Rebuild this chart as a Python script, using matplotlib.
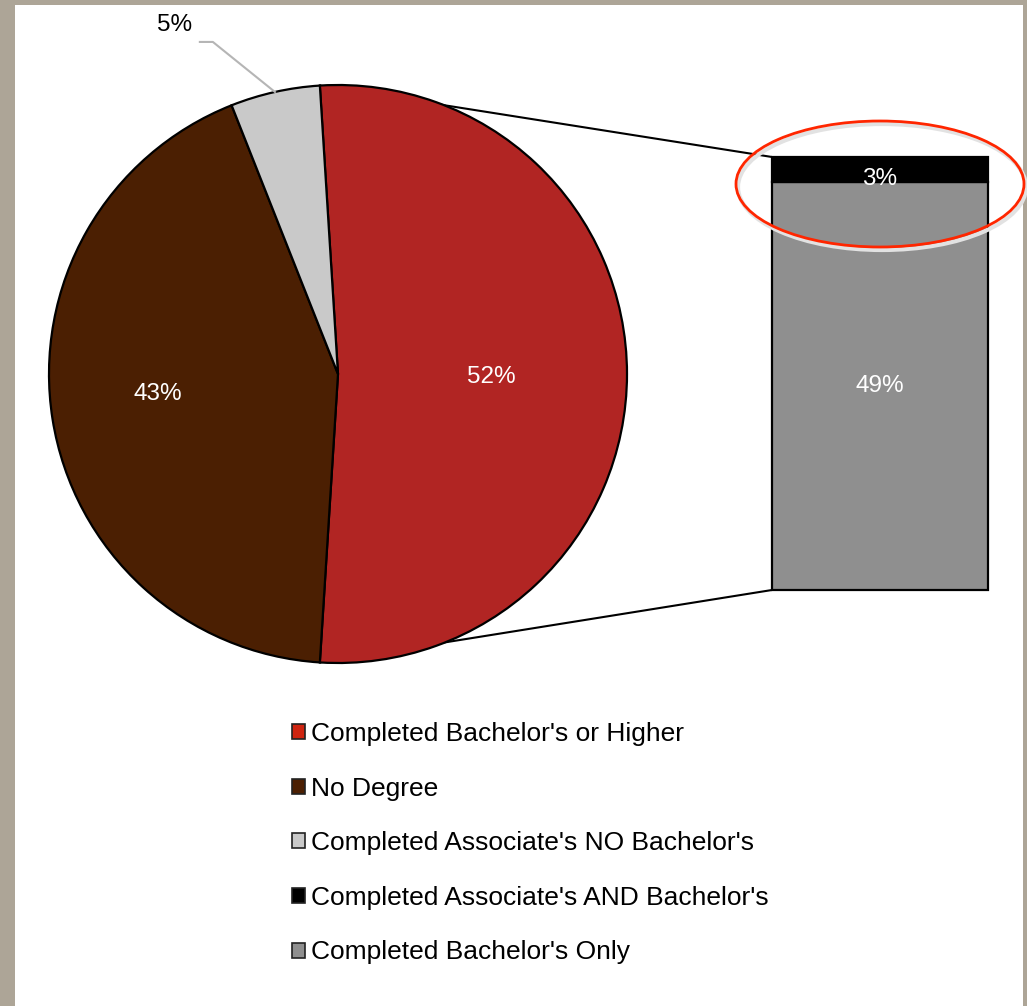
import matplotlib
matplotlib.use("Agg")
import matplotlib.pyplot as plt
from matplotlib.patches import Patch, Ellipse, Rectangle, ConnectionPatch
import numpy as np

plt.rcParams['font.family'] = ['Liberation Sans', 'DejaVu Sans']

# pie: share of students
pie_labels = ["Completed Bachelor's or Higher", "No Degree", "Completed Associate's NO Bachelor's"]
pie_values = [52, 43, 5]
pie_colors = ['#B12523', '#4B1F02', '#C9C9C9']

# bar: breakdown of the 52% slice
bar_labels = ["Completed Bachelor's Only", "Completed Associate's AND Bachelor's"]
bar_values = [49, 3]
bar_colors = ['#8F8F8F', '#000000']

legend_order = [pie_labels[0], pie_labels[1], pie_labels[2], bar_labels[1], bar_labels[0]]
legend_colors = ['#CF2410', '#4B1F02', '#C9C9C9', '#000000', '#8F8F8F']

W, H = 1027, 1006
fig = plt.figure(figsize=(W / 100, H / 100), dpi=100)
fig.patch.set_facecolor('#ADA597')

# white panel
fig.patches.append(Rectangle((15 / W, 0), (1023 - 15) / W, (H - 5) / H,
                             transform=fig.transFigure, facecolor='white',
                             edgecolor='none', zorder=-5))

def px_axes(x0, y0, x1, y1):
    return fig.add_axes([x0 / W, (H - y1) / H, (x1 - x0) / W, (y1 - y0) / H])

LBL = 17.5

# ---- pie ----
cx, cy, r = 338, 374, 289
pax = px_axes(cx - r, cy - r, cx + r, cy + r)
pax.set_zorder(2)
start = 90 + 3.6
wedges, _ = pax.pie(pie_values, colors=pie_colors, startangle=start,
                    counterclock=False, radius=1,
                    wedgeprops=dict(edgecolor='black', linewidth=1.6))
pax.set_xlim(-1, 1)
pax.set_ylim(-1, 1)
pax.axis('off')

# labels
angles = []
a = start
for v in pie_values:
    mid = a - v * 3.6 / 2
    angles.append(np.deg2rad(mid))
    a -= v * 3.6
pax.text(0.53, -0.01, f"{pie_values[0]}%", color='white', fontsize=LBL,
         ha='center', va='center', zorder=5)
pax.text(0.63 * np.cos(angles[1]), 0.63 * np.sin(angles[1]) + 0.03,
         f"{pie_values[1]}%", color='white', fontsize=LBL,
         ha='center', va='center', zorder=5)
ex, ey = np.cos(angles[2]), np.sin(angles[2])
pax.plot([ex, -0.433, -0.478], [ey, 1.149, 1.149], color='#B5B5B5', lw=1.5,
         clip_on=False, zorder=2)
pax.text(-0.564, 1.208, f"{pie_values[2]}%", color='black', fontsize=LBL,
         ha='center', va='center', clip_on=False)

# ---- bar ----
bax = px_axes(772, 157, 988, 590)
bax.set_zorder(2)
bottom = 0
for v, c in zip(bar_values, bar_colors):
    bax.bar(0, v, bottom=bottom, width=1, color=c, edgecolor='black',
            linewidth=1.6, zorder=3, clip_on=False)
    bottom += v
bax.set_xlim(-0.5, 0.5)
bax.set_ylim(0, sum(bar_values))
bax.axis('off')
bax.text(0, bar_values[0] / 2, f"{bar_values[0]}%", color='white',
         fontsize=LBL, ha='center', va='center', zorder=5)
bax.text(0, bar_values[0] + bar_values[1] / 2 - 1.2, f"{bar_values[1]}%",
         color='white', fontsize=LBL, ha='center', va='center', zorder=5)

# connector lines
a0 = np.deg2rad(start)
a1 = np.deg2rad(start - pie_values[0] * 3.6)
for (px, py), (qx, qy) in [((np.cos(a0), np.sin(a0)), (-0.5, sum(bar_values))),
                           ((np.cos(a1), np.sin(a1)), (-0.5, 0))]:
    con = ConnectionPatch((px, py), (qx, qy), coordsA=pax.transData,
                          coordsB=bax.transData, color='black', lw=1.5)
    con.set_zorder(1)
    fig.add_artist(con)

# highlight ellipse
fig.patches.append(Ellipse((882 / W, 1 - 187 / H), 288 / W, 126 / H,
                           transform=fig.transFigure, fill=False,
                           edgecolor='#E2E2E2', lw=3, zorder=9))
fig.patches.append(Ellipse((880 / W, 1 - 184 / H), 288 / W, 126 / H,
                           transform=fig.transFigure, fill=False,
                           edgecolor='#FF2600', lw=2, zorder=10))

# legend
handles = [Patch(facecolor=c, edgecolor='#222222', linewidth=1.2)
           for c in legend_colors]
fig.legend(handles, legend_order, loc='upper left',
           bbox_to_anchor=(292 / W, 1 - 722 / H), frameon=False,
           fontsize=19, handlelength=0.5, handleheight=0.5,
           handletextpad=0.22, labelspacing=1.16, borderpad=0,
           borderaxespad=0)

fig.savefig('out.png', dpi=100, facecolor=fig.get_facecolor())
